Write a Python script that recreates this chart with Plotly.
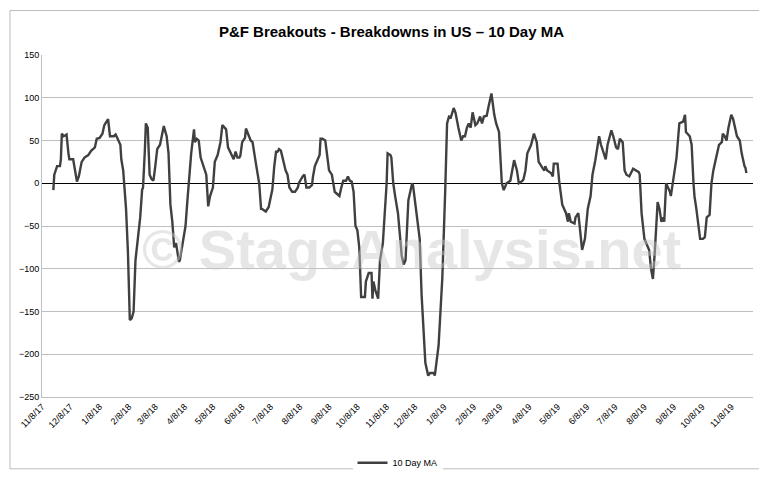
import plotly.graph_objects as go
import pandas as pd

start = pd.Timestamp("2017-11-08")
days = [12,13,16,19,20,21,23,26,28,29,33,35,37,39,42,45,49,52,56,58,61,64,66,70,72,76,78,83,84,86,89,91,93,95,97,99,102,104,106,107,109,110,112,114,116,118,120,122,125,129,132,134,136,138,140,142,145,146,149,152,154,156,158,161,162,164,166,168,171,174,176,178,181,183,186,187,189,191,194,195,197,200,203,205,207,209,210,212,215,216,218,221,223,226,227,230,232,233,237,240,242,244,246,248,249,251,253,256,258,260,262,265,268,271,272,276,278,280,283,286,287,289,292,294,295,297,300,303,304,307,310,312,315,317,319,322,324,326,328,330,332,334,336,338,342,343,346,349,350,351,353,356,358,361,363,365,366,369,
370,372,374,377,379,381,383,385,388,392,393,397,400,402,406,409,411,415,416,420,424,427,429,431,433,436,438,441,444,446,448,450,452,454,456,459,461,464,466,468,471,473,476,479,481,484,486,487,489,492,496,500,503,505,509,510,512,514,518,521,524,526,530,532,533,535,539,541,542,546,548,551,555,557,558,560,564,565,568,570,572,575,578,581,583,586,588,590,592,596,597,599,601,603,605,608,610,612,615,617,619,622,626,629,632,633,635,638,640,643,645,647,649,651,652,654,656,658,659,661,663,665,666,668,672,675,679,681,682,686,688,690,691,693,697,700,702,704,707,709,711,714,717,720,721,723,725,727,730,732,734,736,739,741,744,745,746]
values = [-8,10,20,20,28,58,55,57,35,28,28,12,2,8,25,30,33,38,42,52,53,58,68,75,55,55,57,45,28,15,-30,-80,-160,-158,-150,-90,-60,-40,-8,-5,40,70,65,10,5,3,20,40,45,67,55,35,-25,-45,-75,-70,-92,-90,-70,-50,-20,10,35,63,48,52,50,30,20,10,-27,-15,-5,25,33,38,48,68,65,63,42,35,28,37,30,30,32,48,53,64,58,50,48,30,20,0,-30,-30,-33,-28,-15,-7,20,38,36,40,38,25,15,10,-5,-10,-10,-5,0,8,10,-5,-5,-2,8,20,28,33,52,52,50,20,15,10,-10,-12,-15,-5,3,3,8,3,2,-10,-50,-55,-75,-133,-133,-115,-105,-105,-135,-115,-125,-135,-90,-70,-40,0,35,33,
30,0,-15,-35,-60,-85,-95,-90,-20,0,-3,-40,-65,-130,-210,-225,-222,-222,-225,-190,-110,-10,70,78,77,88,82,65,50,55,55,65,70,65,83,68,70,78,70,78,79,90,105,80,70,60,20,0,-8,0,3,27,15,0,3,5,15,35,45,58,48,25,18,15,20,15,12,8,23,23,0,-25,-35,-45,-35,-45,-47,-40,-35,-55,-78,-65,-30,-15,10,27,40,55,45,30,28,45,55,62,55,42,40,52,48,15,10,8,17,15,13,10,-35,-65,-70,-78,-100,-112,-80,-35,-22,-30,-45,-40,-45,0,-5,-10,-15,0,30,70,72,80,60,55,45,0,-15,-30,-65,-65,-63,-40,-37,0,15,30,45,48,58,55,50,65,80,75,65,55,50,35,20,18,12]
dates = [start + pd.Timedelta(days=d) for d in days]
tick_dates = pd.date_range("2017-11-08", periods=25, freq=pd.DateOffset(months=1))
tick_labels = [f"{t.month}/{t.day}/{t.strftime('%y')}" for t in tick_dates]

fig = go.Figure()
fig.add_trace(go.Scatter(x=dates, y=values, mode="lines", name="10 Day MA",
                         line=dict(color="#404040", width=2.4)))
fig.update_layout(
    width=767, height=481, paper_bgcolor="white", plot_bgcolor="white",
    margin=dict(l=34, r=22, t=47, b=74),
    title=dict(text="<b>P&F Breakouts - Breakdowns in US – 10 Day MA</b>", x=0.5, y=0.962,
               xanchor="center", font=dict(family="Liberation Sans", size=15, color="#000")),
    font=dict(family="Liberation Sans", size=9, color="#000"),
    showlegend=True,
    legend=dict(orientation="h", x=0.5, xanchor="center", y=-0.15, yanchor="top",
                font=dict(size=9, color="#000")),
    annotations=[dict(text="<b>© StageAnalysis.net</b>", x=0.52, y=0.43, xref="paper", yref="paper",
                      showarrow=False, font=dict(size=56, color="rgba(200,200,200,0.45)",
                                                 family="Liberation Sans"))],
    shapes=[dict(type="rect", xref="paper", yref="paper", x0=-0.045, y0=-0.21, x1=1.028, y1=1.13,
                 line=dict(color="#bbbbbb", width=1))],
)
fig.update_xaxes(range=[start, start + pd.Timedelta(days=753)], tickvals=tick_dates,
                 ticktext=tick_labels, tickangle=-45, showgrid=False, showline=True,
                 linecolor="#bfbfbf", ticks="", zeroline=False,
                 tickfont=dict(color="#000", size=9))
fig.update_yaxes(range=[-250, 150], dtick=50, showgrid=True, gridcolor="#bfbfbf", gridwidth=1.3,
                 zeroline=True, zerolinecolor="black", zerolinewidth=1, showline=True,
                 linecolor="#bfbfbf", ticks="", tickfont=dict(color="#000", size=9))
fig.write_html("out.html")
